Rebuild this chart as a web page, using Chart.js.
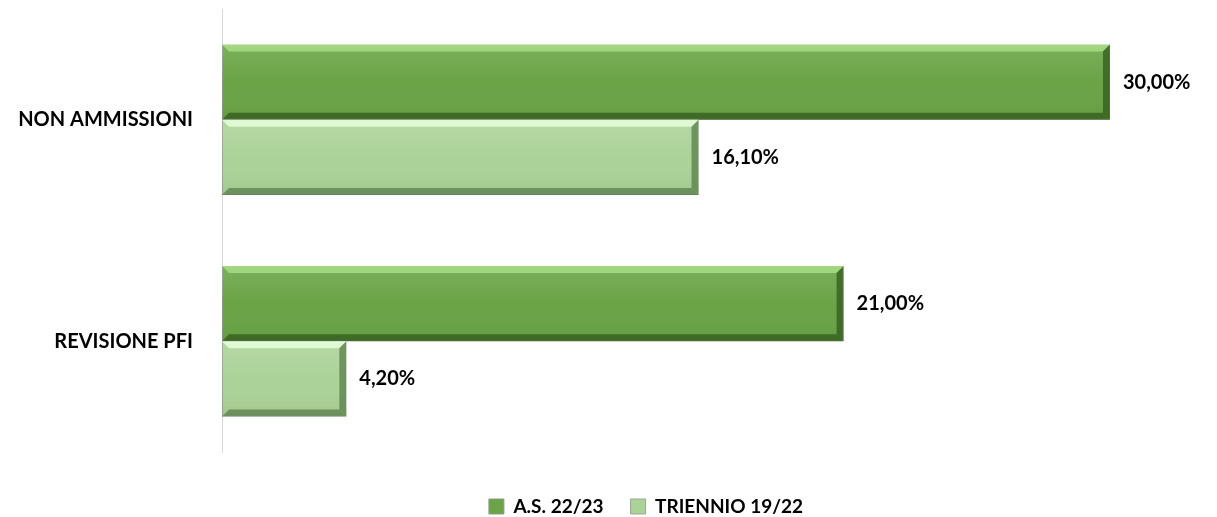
<!DOCTYPE html>
<html>
<head>
<meta charset="utf-8">
<script src="https://cdn.jsdelivr.net/npm/chart.js@4/dist/chart.umd.min.js"></script>
<style>
  html, body { margin: 0; padding: 0; background: #fff; }
  #wrap { width: 1217px; height: 517px; position: relative; }
</style>
</head>
<body>
<div id="wrap"><canvas id="myChart"></canvas></div>
<script>
// categories and values (percent)
var categories = ["NON AMMISSIONI", "REVISIONE PFI"];
var seriesNames = ["A.S. 22/23", "TRIENNIO 19/22"];
var valuesAS = [30.0, 21.0];
var valuesTriennio = [16.1, 4.2];

var fontFamily = "Lato, 'Open Sans', sans-serif";

// bevel look drawn on top of each bar
var bevelPlugin = {
  id: 'bevel',
  afterDatasetsDraw: function(chart) {
    var ctx = chart.ctx;
    var shades = [
      { hi: 'rgba(170,225,135,0.8)', lo: 'rgba(50,90,28,0.75)' },
      { hi: 'rgba(230,255,220,0.85)', lo: 'rgba(90,125,75,0.75)' }
    ];
    chart.data.datasets.forEach(function(ds, di) {
      var meta = chart.getDatasetMeta(di);
      meta.data.forEach(function(bar) {
        var left = bar.base, right = bar.x;
        var top = bar.y - bar.height / 2, bottom = bar.y + bar.height / 2;
        var b = 7;
        ctx.save();
        // soft shading in the middle
        var g = ctx.createLinearGradient(0, top, 0, bottom);
        g.addColorStop(0, 'rgba(255,255,255,0.12)');
        g.addColorStop(0.5, 'rgba(255,255,255,0)');
        g.addColorStop(1, 'rgba(0,0,0,0.06)');
        ctx.fillStyle = g;
        ctx.fillRect(left, top, right - left, bottom - top);
        // top highlight
        ctx.fillStyle = shades[di].hi;
        ctx.beginPath();
        ctx.moveTo(left, top); ctx.lineTo(right, top);
        ctx.lineTo(right - b, top + b); ctx.lineTo(left + b, top + b);
        ctx.closePath(); ctx.fill();
        // bottom + right shadow
        ctx.fillStyle = shades[di].lo;
        ctx.beginPath();
        ctx.moveTo(left, bottom); ctx.lineTo(right, bottom);
        ctx.lineTo(right - b, bottom - b); ctx.lineTo(left + b, bottom - b);
        ctx.closePath(); ctx.fill();
        ctx.beginPath();
        ctx.moveTo(right, top); ctx.lineTo(right, bottom);
        ctx.lineTo(right - b, bottom - b); ctx.lineTo(right - b, top + b);
        ctx.closePath(); ctx.fill();
        ctx.restore();
      });
    });
  }
};

// value labels at the end of the bars
var labelPlugin = {
  id: 'valueLabels',
  afterDatasetsDraw: function(chart) {
    var ctx = chart.ctx;
    ctx.save();
    ctx.font = "bold 20px " + fontFamily;
    ctx.fillStyle = "#000";
    ctx.textAlign = "left";
    ctx.textBaseline = "middle";
    chart.data.datasets.forEach(function(ds, di) {
      var meta = chart.getDatasetMeta(di);
      meta.data.forEach(function(bar, i) {
        var txt = ds.data[i].toFixed(2).replace('.', ',') + '%';
        ctx.fillText(txt, bar.x + 13, bar.y);
      });
    });
    ctx.restore();
  }
};

var ctx = document.getElementById("myChart");
var myChart = new Chart(ctx, {
  type: 'bar',
  data: {
    labels: categories,
    datasets: [{
      label: seriesNames[0],
      data: valuesAS,
      backgroundColor: '#6aa446',
      borderColor: '#8f9a88',
      borderWidth: 1,
      borderSkipped: false,
      clip: false,
      categoryPercentage: 0.68,
      barPercentage: 1.0
    }, {
      label: seriesNames[1],
      data: valuesTriennio,
      backgroundColor: '#abd398',
      borderColor: '#9aa596',
      borderWidth: 1,
      borderSkipped: false,
      clip: false,
      categoryPercentage: 0.68,
      barPercentage: 1.0
    }]
  },
  options: {
    indexAxis: 'y',
    responsive: true,
    maintainAspectRatio: false,
    animation: false,
    layout: { padding: { top: 9, right: 147, left: 0, bottom: -9 } },
    scales: {
      x: {
        display: true,
        min: 0,
        max: 28.65,
        grid: { display: false },
        border: { display: false },
        ticks: { display: false },
        afterFit: function(scale) { scale.height = 18; }
      },
      y: {
        grid: { display: false },
        border: { display: true, color: '#d9d9d9', width: 1 },
        ticks: {
          color: '#000',
          padding: 21,
          font: { family: fontFamily, size: 20, weight: 'bold' }
        },
        afterFit: function(scale) {
          scale.width = 222;
          scale.paddingTop = 0;
          scale.paddingBottom = 0;
        }
      }
    },
    plugins: {
      tooltip: { enabled: false },
      legend: {
        position: 'bottom',
        fullSize: false,
        labels: {
          color: '#000',
          boxWidth: 15,
          boxHeight: 15,
          padding: 27,
          font: { family: fontFamily, size: 19, weight: 'bold' }
        }
      }
    }
  },
  plugins: [bevelPlugin, labelPlugin]
});
</script>
</body>
</html>
